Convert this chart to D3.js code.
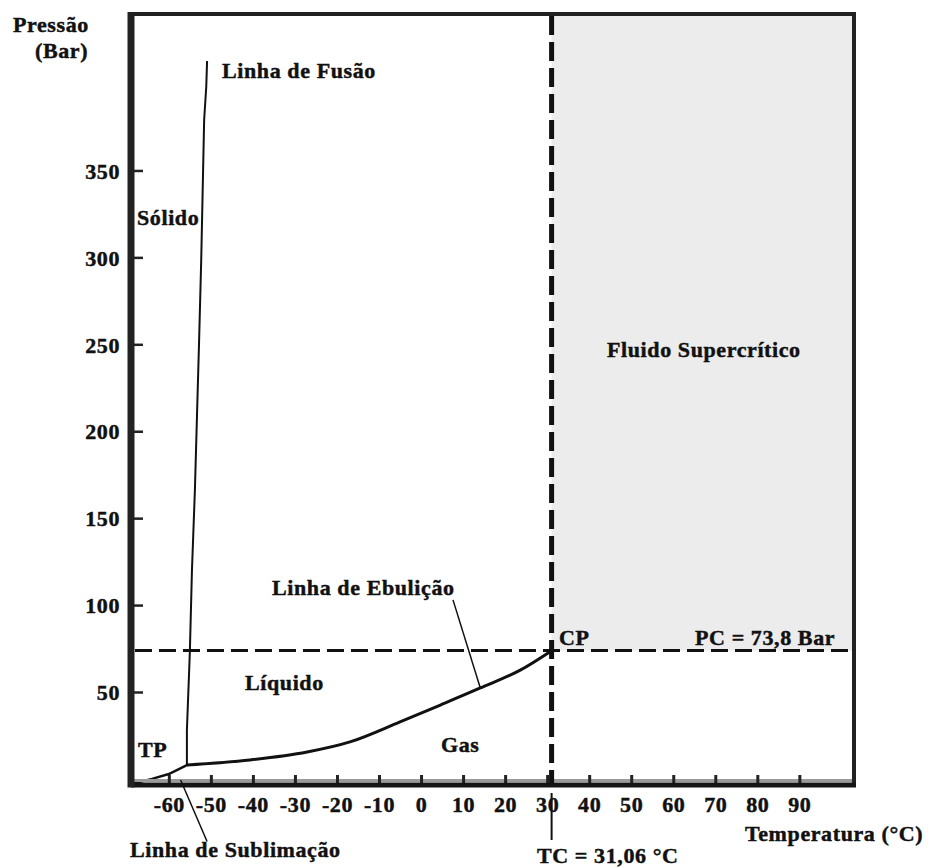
<!DOCTYPE html>
<html>
<head>
<meta charset="utf-8">
<script src="https://cdn.jsdelivr.net/npm/d3@7"></script>
<style>
  html, body { margin: 0; padding: 0; background: #ffffff; }
  svg text { font-family: "Liberation Serif", "Times New Roman", serif; font-weight: bold; font-size: 22px; letter-spacing: 0.6px; fill: #111; stroke: #111; stroke-width: 0.45px; }
</style>
</head>
<body>
<div id="chart"></div>
<script>
// CO2 phase diagram: temperature (°C) vs pressure (bar)
const xTicks = [-60, -50, -40, -30, -20, -10, 0, 10, 20, 30, 40, 50, 60, 70, 80, 90];
const xTickLabels = ["-60", "-50", "-40", "-30", "-20", "-10", "0", "10", "20", "30", "40", "50", "60", "70", "80", "90"];
const yTicks = [50, 100, 150, 200, 250, 300, 350];

// critical point
const TC = 31.06;
const PC = 73.8;

// melting (fusion) curve
const fusionT = [-55.7, -55.7, -55.0, -54.5, -53.8, -53.3, -52.8, -52.3, -51.6, -51.1, -50.9];
const fusionP = [8, 28, 73, 120, 166, 209, 252, 298, 379, 398, 413];

// boiling (vapour pressure) curve, triple point to critical point
const boilT = [-55.7, -40.7, -27.1, -16.9, -5.0, 4.6, 14.1, 23.6, TC];
const boilP = [8, 10.9, 15.5, 21.3, 32.8, 42.5, 52.3, 62.6, PC];

// sublimation curve below the triple point
const subT = [-69, -64, -60, -55.7];
const subP = [-3, 0, 2.8, 8];

const W = 930, H = 868;
const svg = d3.select("#chart").append("svg").attr("width", W).attr("height", H);

const x = d3.scaleLinear().domain([-69, 103]).range([131, 854]);
const y = d3.scaleLinear().domain([-3.5, 440]).range([785, 14]);

const [x0, x1] = x.range();
const [y0, y1] = y.range(); // y0 bottom, y1 top

// supercritical region
svg.append("rect")
  .attr("x", x(TC)).attr("y", y1)
  .attr("width", x1 - x(TC)).attr("height", y(PC) - y1)
  .attr("fill", "#ececec");

const zip = (a, b) => a.map((v, i) => [v, b[i]]);

// sublimation
svg.append("path").datum(zip(subT, subP))
  .attr("d", d3.line().x(d => x(d[0])).y(d => y(d[1])))
  .attr("fill", "none").attr("stroke", "#111").attr("stroke-width", 2.5);

// boiling
svg.append("path").datum(zip(boilT, boilP))
  .attr("d", d3.line().x(d => x(d[0])).y(d => y(d[1])).curve(d3.curveMonotoneX))
  .attr("fill", "none").attr("stroke", "#111").attr("stroke-width", 3);

// fusion
svg.append("path").datum(zip(fusionT, fusionP))
  .attr("d", d3.line().x(d => x(d[0])).y(d => y(d[1])))
  .attr("fill", "none").attr("stroke", "#111").attr("stroke-width", 2);

// critical pressure line
svg.append("line")
  .attr("x1", x0 + 4).attr("x2", x1 - 2)
  .attr("y1", y(PC)).attr("y2", y(PC))
  .attr("stroke", "#111").attr("stroke-width", 3)
  .attr("stroke-dasharray", "17,7");

// axes
const yAxis = d3.axisLeft(y).tickValues(yTicks).tickSize(-12).tickPadding(11);
const gy = svg.append("g").attr("transform", `translate(${x0},0)`).call(yAxis);
gy.select(".domain").remove();
gy.attr("font-family", null).attr("font-size", null);
gy.selectAll(".tick line").attr("stroke", "#222").attr("stroke-width", 2.5);
gy.selectAll(".tick text").attr("dy", "0.35em");

// thin grey band just above the baseline
svg.append("line")
  .attr("x1", x0).attr("x2", x1).attr("y1", y0 - 4.5).attr("y2", y0 - 4.5)
  .attr("stroke", "#9a9a9a").attr("stroke-width", 3);

const xAxis = d3.axisBottom(x).tickValues(xTicks).tickSize(-10)
  .tickFormat((d, i) => xTickLabels[i]);
const gx = svg.append("g").attr("transform", `translate(0,${y0})`).call(xAxis);
gx.select(".domain").remove();
gx.attr("font-family", null).attr("font-size", null);
gx.selectAll(".tick line").attr("stroke", "#222").attr("stroke-width", 3);
gx.selectAll(".tick text").attr("y", 27).attr("dy", 0);

// frame
svg.append("line").attr("x1", x0).attr("x2", x1 + 2).attr("y1", y1).attr("y2", y1)
  .attr("stroke", "#222").attr("stroke-width", 4);
svg.append("line").attr("x1", x1).attr("x2", x1).attr("y1", y1 - 2).attr("y2", y0)
  .attr("stroke", "#222").attr("stroke-width", 4);
svg.append("line").attr("x1", x0).attr("x2", x1 + 2).attr("y1", y0).attr("y2", y0)
  .attr("stroke", "#151515").attr("stroke-width", 5);
svg.append("line").attr("x1", x0).attr("x2", x0).attr("y1", y1 - 2).attr("y2", y0 + 2.5)
  .attr("stroke", "#222").attr("stroke-width", 7);

// critical temperature line
svg.append("line")
  .attr("x1", x(TC)).attr("x2", x(TC))
  .attr("y1", y1 + 2).attr("y2", y0)
  .attr("stroke", "#111").attr("stroke-width", 5)
  .attr("stroke-dasharray", "19,7");

// leader lines
svg.append("line")
  .attr("x1", x(7.6)).attr("y1", y(103)).attr("x2", x(14.1)).attr("y2", y(52.3))
  .attr("stroke", "#111").attr("stroke-width", 1.5);
svg.append("line")
  .attr("x1", x(-57.2)).attr("y1", y(-0.6)).attr("x2", x(-50.9)).attr("y2", y(-36))
  .attr("stroke", "#111").attr("stroke-width", 1.5);
svg.append("line")
  .attr("x1", x(TC)).attr("x2", x(TC)).attr("y1", y0 + 8).attr("y2", y0 + 55)
  .attr("stroke", "#111").attr("stroke-width", 2);

// text labels
const labels = [
  ["Pressão", 13, 32],
  ["(Bar)", 35, 58],
  ["Sólido", 137, 225],
  ["Linha de Fusão", 222, 78],
  ["Fluido Supercrítico", 607, 357],
  ["Linha de Ebulição", 272, 595],
  ["CP", 559, 645],
  ["PC = 73,8 Bar", 695, 645],
  ["Líquido", 245, 690],
  ["TP", 138, 757],
  ["Gas", 441, 752],
  ["Linha de Sublimação", 130, 857],
  ["TC = 31,06 °C", 537, 863],
  ["Temperatura (°C)", 745, 841]
];
svg.selectAll("text.lbl").data(labels).join("text")
  .attr("class", "lbl")
  .attr("x", d => d[1]).attr("y", d => d[2])
  .text(d => d[0]);
</script>
</body>
</html>
